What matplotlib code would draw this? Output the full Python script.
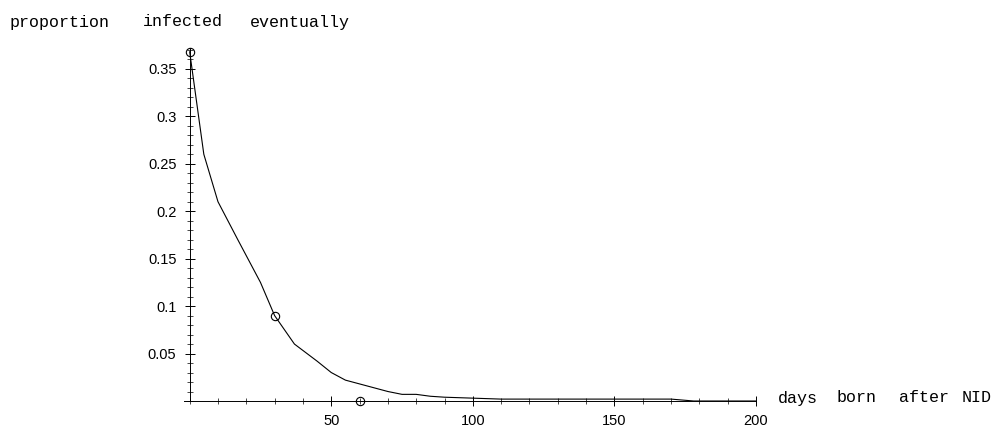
import matplotlib
matplotlib.use("Agg")
import matplotlib.pyplot as plt
from matplotlib.ticker import MultipleLocator, FixedLocator

days = [0, 5, 10, 17, 25, 30, 37, 45, 50, 55, 60, 65, 70, 75, 80, 85, 90, 100, 110, 140, 170, 178, 190, 200]
proportion = [0.368, 0.26, 0.21, 0.17, 0.125, 0.09, 0.06, 0.042, 0.03, 0.022, 0.018, 0.014, 0.01, 0.007, 0.007, 0.005, 0.004, 0.003, 0.002, 0.002, 0.002, 0.0, 0.0, 0.0]
mark_days = [0, 30, 60]
mark_prop = [0.368, 0.09, 0.0]

fig = plt.figure(figsize=(10.03, 4.28), dpi=100)
ax = fig.add_axes([184/1003, 27/428, 572/1003, 353/428])
ax.plot(days, proportion, color='black', lw=0.8)
ax.plot(mark_days, mark_prop, 'o', mfc='none', mec='black', ms=6, mew=0.8, clip_on=False)
ax.set_xlim(-2, 200)
ax.set_ylim(0, 0.372)
for s in ['top', 'right']:
    ax.spines[s].set_visible(False)
ax.spines['left'].set_position(('data', 0))
ax.spines['bottom'].set_position(('data', 0))
ax.spines['left'].set_linewidth(0.7)
ax.spines['bottom'].set_linewidth(0.7)
ax.xaxis.set_major_locator(FixedLocator([50, 100, 150, 200]))
ax.xaxis.set_minor_locator(MultipleLocator(10))
ax.yaxis.set_major_locator(FixedLocator([0.05, 0.1, 0.15, 0.2, 0.25, 0.3, 0.35]))
ax.yaxis.set_minor_locator(MultipleLocator(0.01))
ax.set_yticklabels(['0.05', '0.1', '0.15', '0.2', '0.25', '0.3', '0.35'])
ax.tick_params(which='major', direction='inout', length=7, width=0.7, labelsize=10.5, pad=6)
ax.tick_params(which='minor', direction='inout', length=4, width=0.5)
for t in ax.get_xticklabels() + ax.get_yticklabels():
    t.set_fontfamily('Liberation Sans')

top_words = [('proportion', 10), ('infected', 143), ('eventually', 250)]
for w, px in top_words:
    fig.text(px/1003, 1 - 22/428, w, family='Liberation Mono', fontsize=12, va='center')
bottom_words = [('days', 778), ('born', 837), ('after', 899), ('NID', 962)]
for w, px in bottom_words:
    fig.text(px/1003, 1 - 398/428, w, family='Liberation Mono', fontsize=12, va='center')
fig.savefig('out.png', dpi=100)
